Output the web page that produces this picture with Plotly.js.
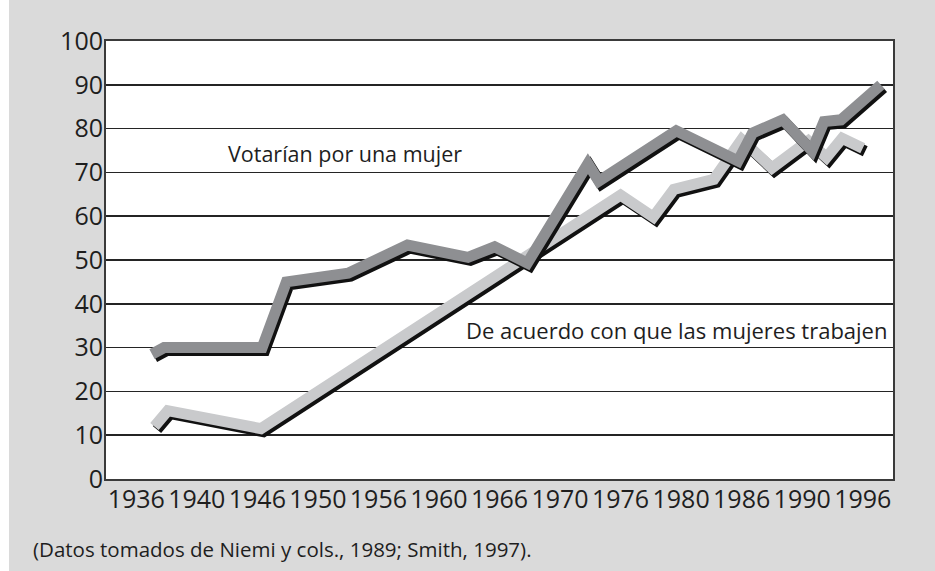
<!DOCTYPE html>
<html>
<head>
<meta charset="utf-8">
<script src="https://cdn.plot.ly/plotly-3.0.1.min.js"></script>
<style>
html,body{margin:0;padding:0;background:#ffffff;}
#chart{width:935px;height:571px;}
</style>
</head>
<body>
<div id="chart"></div>
<script>
// Series 1: "Votarían por una mujer"
const voteYears  = [1937.3, 1938.3, 1946.4, 1948.4, 1953.5, 1958.4, 1963.4, 1965.6, 1968.3, 1973.3, 1974.2, 1980.6, 1985.7, 1986.9, 1989.4, 1991.8, 1992.8, 1994.2, 1997.5];
const voteValues = [28.5,   30,     30,     45,     47,     53.4,   50.6,   53,     49.3,   72,     68,     79.5,   72.6,   79,     82,     75,     81.6,   82,     90];

// Series 2: "De acuerdo con que las mujeres trabajen"
const workYears  = [1937.5, 1938.6, 1946.3, 1976.0, 1978.7, 1980.4, 1983.7, 1986.0, 1988.5, 1991.5, 1993.0, 1994.3, 1996.0];
const workValues = [12,     15.6,   11.5,   64.8,   59.8,   66.1,   68.4,   77.5,   71.0,   77.2,   73.4,   77.8,   75.5];

// Axis labels
const tickYears  = [1936, 1941, 1946, 1951, 1956, 1961, 1966, 1971, 1976, 1981, 1986, 1991, 1996];
const tickLabels = ["1936","1940","1946","1950","1956","1960","1966","1970","1976","1980","1986","1990","1996"];
const yTicks = [0,10,20,30,40,50,60,70,80,90,100];

const labelVote = "Votarían por una mujer";
const labelWork = "De acuerdo con que las mujeres trabajen";
const source = "(Datos tomados de Niemi y cols., 1989; Smith, 1997).";

// layout geometry
const W = 935, H = 571;
const M = {l:106, r:42, t:41, b:92};
const xRange = [1933.5, 1998.5];
const yRange = [0, 100];
const plotW = W - M.l - M.r, plotH = H - M.t - M.b;
const pxPerX = plotW / (xRange[1]-xRange[0]);
const pxPerY = plotH / (yRange[1]-yRange[0]);
// shadow offset in pixels, converted to data units
const shDx = 2.5 / pxPerX, shDy = 3 / pxPerY;

const FONT = "Open Sans, Noto Sans, sans-serif";
const LW = 11;

function series(xs, ys, color, name){
  return [
    {x: xs.map(v=>v+shDx), y: ys.map(v=>v-shDy), mode:'lines', line:{color:'#111111', width:LW}, hoverinfo:'skip', showlegend:false},
    {x: xs, y: ys, mode:'lines', name:name, line:{color:color, width:LW}, showlegend:false}
  ];
}

const data = [].concat(
  series(workYears, workValues, '#c9cacc', labelWork),
  series(voteYears, voteValues, '#8e8f92', labelVote)
);

const layout = {
  width: W, height: H,
  margin: M,
  paper_bgcolor: '#dadada',
  plot_bgcolor: '#ffffff',
  font: {family: FONT, color:'#1e1e1e', size: 22},
  showlegend: false,
  xaxis: {
    range: xRange, showgrid:false, zeroline:false,
    showline:true, linecolor:'#3a3a3a', linewidth:2, mirror:true,
    ticks:'', tickmode:'array', tickvals: tickYears, ticktext: tickLabels,
    ticklabelstandoff:-3,
    tickfont:{size:25, family:FONT, color:'#1e1e1e'}, fixedrange:true
  },
  yaxis: {
    range: yRange, tickmode:'array', tickvals: yTicks, ticks:'',
    showgrid:true, gridcolor:'#242424', gridwidth:1.5, zeroline:false,
    showline:true, linecolor:'#3a3a3a', linewidth:2, mirror:true,
    ticklabelstandoff:-4,
    tickfont:{size:25, family:FONT, color:'#1e1e1e'}, fixedrange:true
  },
  shapes: [
    {type:'rect', xref:'paper', yref:'paper', x0:-M.l/plotW, x1:(9-M.l)/plotW, y0:-M.b/plotH, y1:1+M.t/plotH, fillcolor:'#ffffff', line:{width:0}, layer:'below'}
  ],
  annotations: [
    {x:1943.4, y:74.4, xref:'x', yref:'y', text:labelVote, showarrow:false, xanchor:'left', yanchor:'middle', font:{size:21.5, family:FONT, color:'#1e1e1e'}},
    {x:1963.1, y:34.0, xref:'x', yref:'y', text:labelWork, showarrow:false, xanchor:'left', yanchor:'middle', font:{size:22, family:FONT, color:'#1e1e1e'}},
    {x:(31-M.l)/plotW, y:-(549-M.t-plotH)/plotH, xref:'paper', yref:'paper', text:source, showarrow:false, xanchor:'left', yanchor:'middle', font:{size:20.5, family:FONT, color:'#1e1e1e'}}
  ]
};

Plotly.newPlot('chart', data, layout, {displayModeBar:false, staticPlot:true});
</script>
</body>
</html>
